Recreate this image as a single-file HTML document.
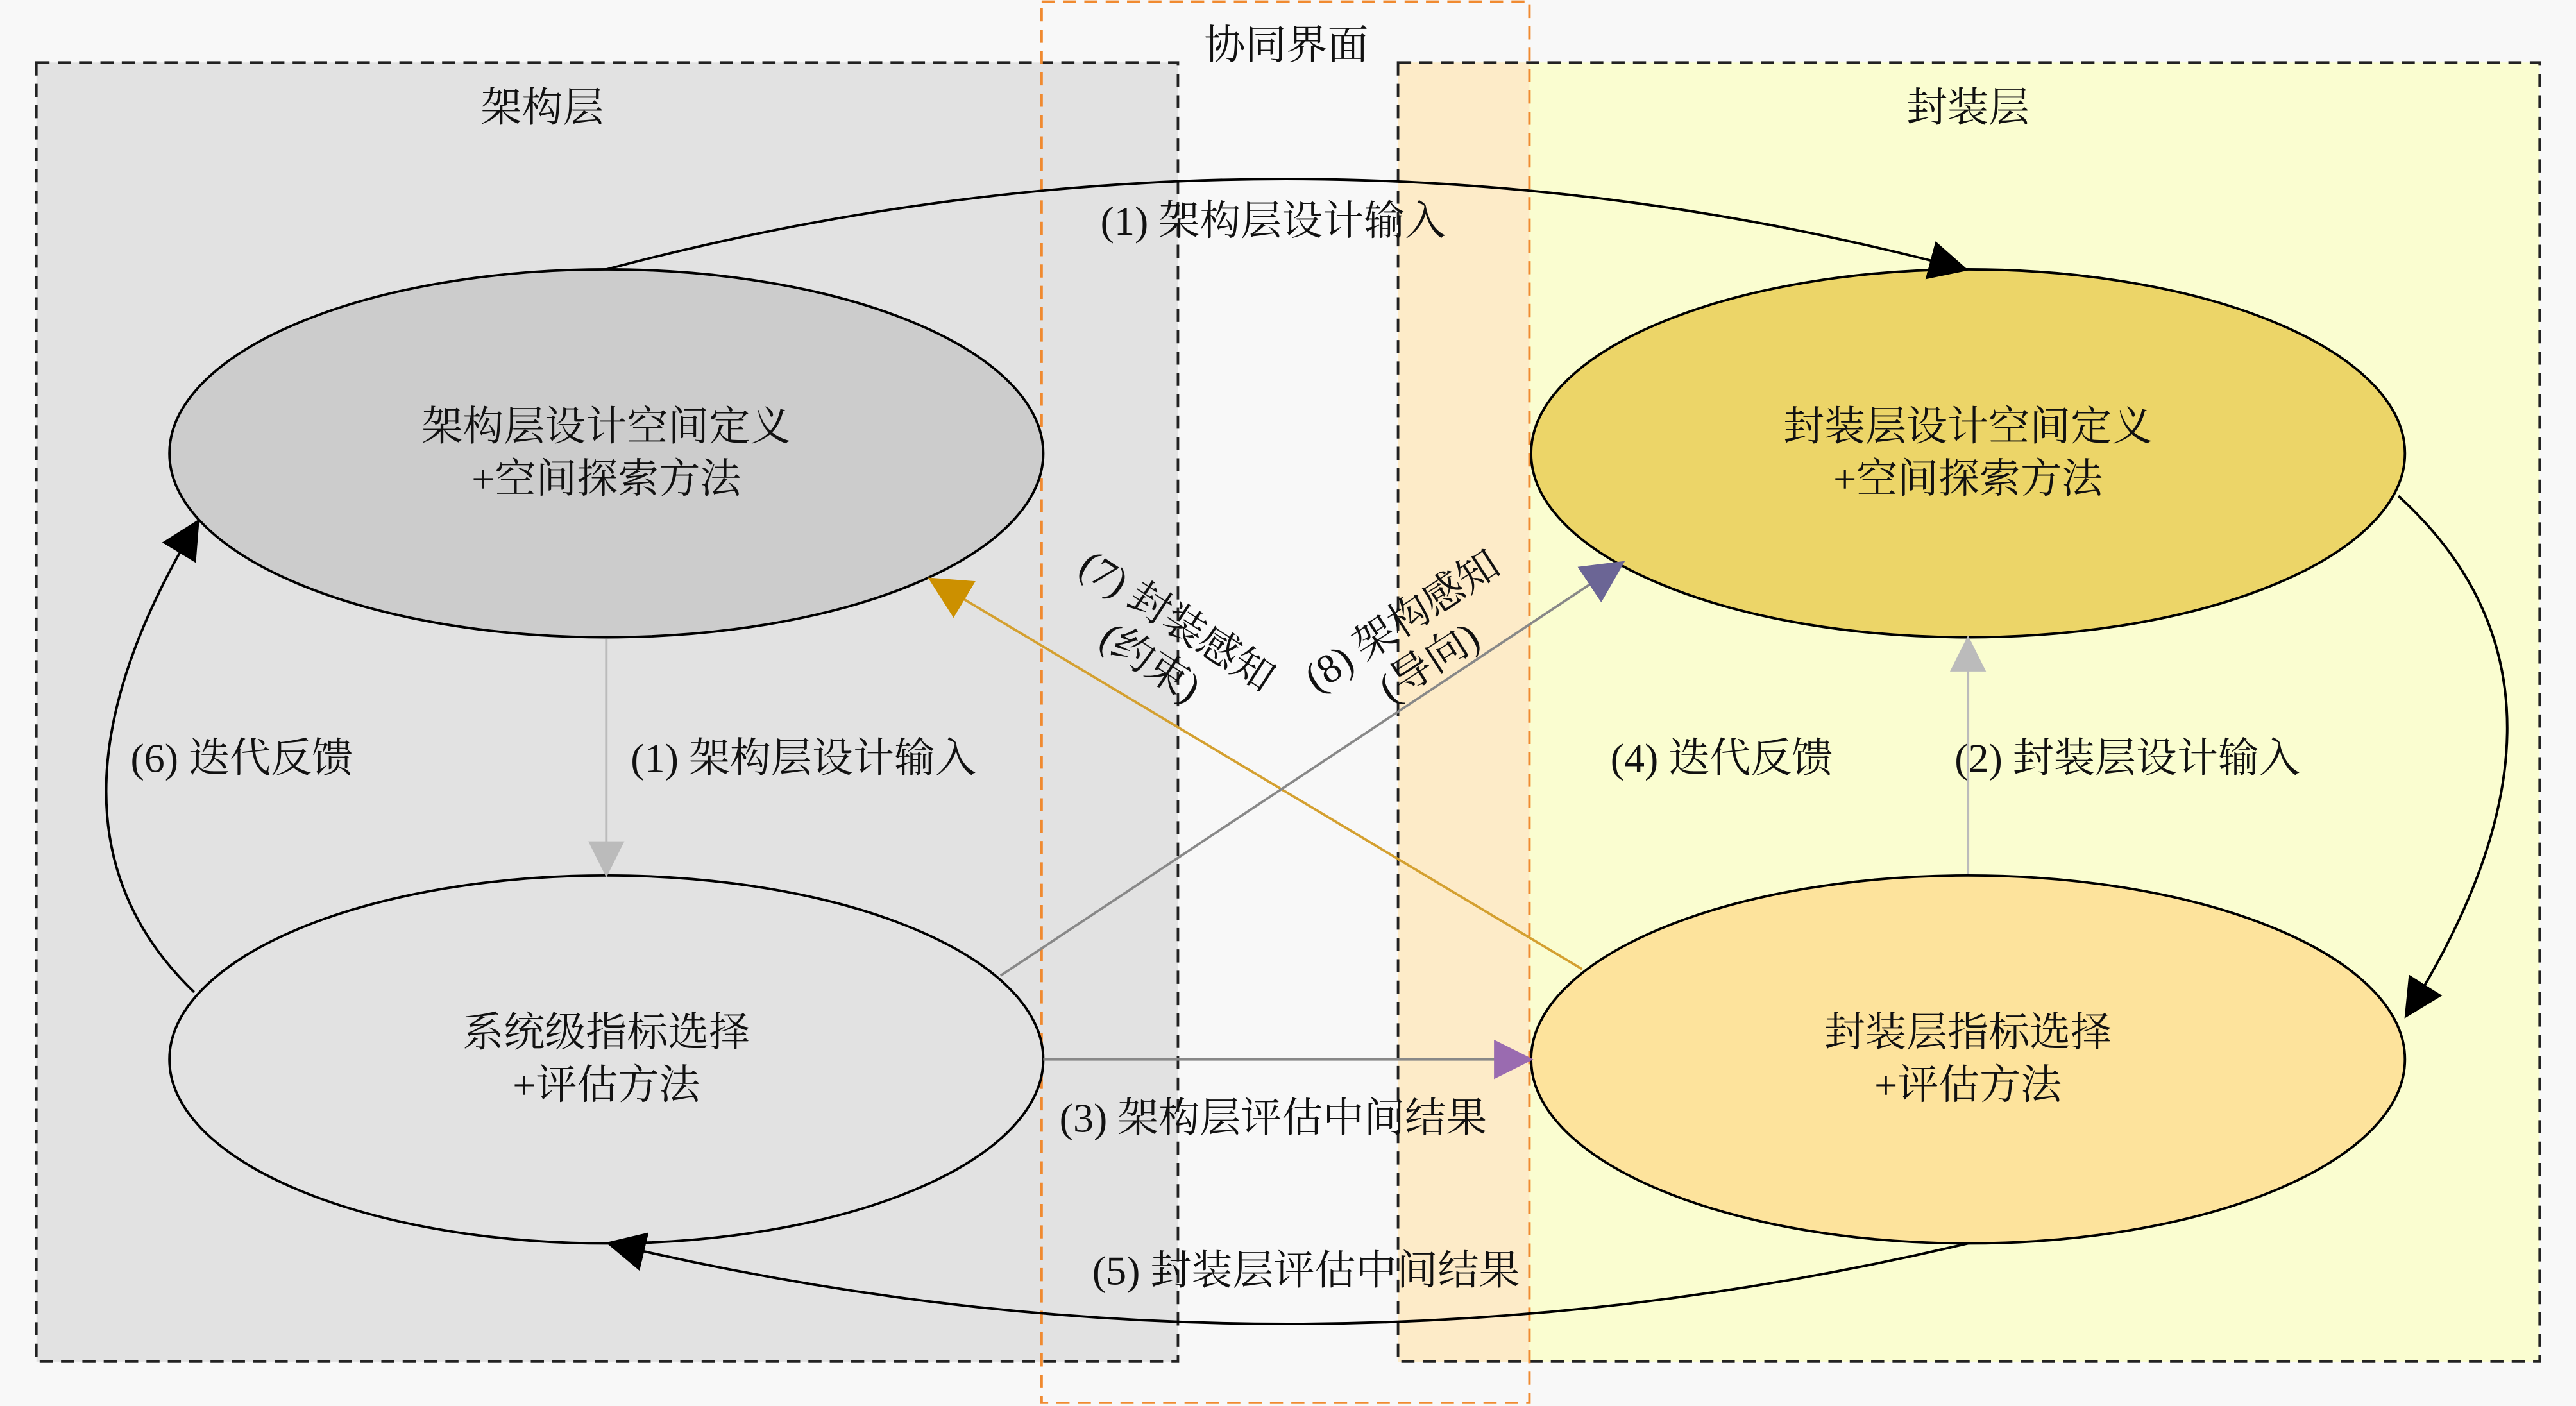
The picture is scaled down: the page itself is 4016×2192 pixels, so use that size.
<!DOCTYPE html>
<html><head><meta charset="utf-8"><style>html,body{margin:0;padding:0;background:#f8f8f8}svg{display:block}</style></head>
<body>
<svg width="4016" height="2192" viewBox="0 0 1568 856" xmlns="http://www.w3.org/2000/svg" font-family="'Liberation Serif','Noto Serif CJK SC',serif" font-size="25" fill="#111">
<defs>
<marker id="ag" viewBox="0 0 10 10" refX="9" refY="5" markerWidth="22" markerHeight="22" orient="auto" markerUnits="userSpaceOnUse"><path d="M0,0 L10,5 L0,10 z" fill="#bbb"/></marker>
<marker id="ap" viewBox="0 0 10 10" refX="9" refY="5" markerWidth="24" markerHeight="24" orient="auto" markerUnits="userSpaceOnUse"><path d="M0,0 L10,5 L0,10 z" fill="#9a6bb0"/></marker>
<marker id="ao" viewBox="0 0 10 10" refX="9" refY="5" markerWidth="26" markerHeight="26" orient="auto" markerUnits="userSpaceOnUse"><path d="M0,0 L10,5 L0,10 z" fill="#cc9000"/></marker>
<marker id="av" viewBox="0 0 10 10" refX="9" refY="5" markerWidth="26" markerHeight="26" orient="auto" markerUnits="userSpaceOnUse"><path d="M0,0 L10,5 L0,10 z" fill="#6b6595"/></marker>
<marker id="ak" viewBox="0 0 10 10" refX="9" refY="5" markerWidth="24" markerHeight="24" orient="auto" markerUnits="userSpaceOnUse"><path d="M0,0 L10,5 L0,10 z" fill="#000"/></marker>
</defs>
<rect width="1568" height="856" fill="#f8f8f8"/>
<rect x="22" y="38" width="695" height="791" fill="#e2e2e2"/>
<rect x="851" y="38" width="695" height="791" fill="#fafdd0"/>
<rect x="851" y="38" width="80" height="791" fill="#fdebc8"/>
<rect x="22" y="38" width="695" height="791" fill="none" stroke="#222" stroke-width="1.5" stroke-dasharray="8,5"/>
<rect x="851" y="38" width="695" height="791" fill="none" stroke="#222" stroke-width="1.5" stroke-dasharray="8,5"/>
<rect x="634" y="1" width="297" height="853" fill="none" stroke="#f08a30" stroke-width="1.5" stroke-dasharray="8,5"/>
<text x="330" y="74" text-anchor="middle">架构层</text>
<text x="783" y="36" text-anchor="middle">协同界面</text>
<text x="1198" y="74" text-anchor="middle">封装层</text>
<ellipse cx="369" cy="276" rx="266" ry="112" fill="#cccccc" stroke="#000" stroke-width="1.5"/>
<ellipse cx="1198" cy="276" rx="266" ry="112" fill="#ecd568" stroke="#000" stroke-width="1.5"/>
<ellipse cx="369" cy="645" rx="266" ry="112" fill="#e2e2e2" stroke="#000" stroke-width="1.5"/>
<ellipse cx="1198" cy="645" rx="266" ry="112" fill="#fde39c" stroke="#000" stroke-width="1.5"/>
<text text-anchor="middle"><tspan x="369" y="268">架构层设计空间定义</tspan><tspan x="369" y="300">+空间探索方法</tspan></text>
<text text-anchor="middle"><tspan x="1198" y="268">封装层设计空间定义</tspan><tspan x="1198" y="300">+空间探索方法</tspan></text>
<text text-anchor="middle"><tspan x="369" y="637">系统级指标选择</tspan><tspan x="369" y="669">+评估方法</tspan></text>
<text text-anchor="middle"><tspan x="1198" y="637">封装层指标选择</tspan><tspan x="1198" y="669">+评估方法</tspan></text>
<path d="M369,164 Q783,54 1196,164" fill="none" stroke="#000" stroke-width="1.5" marker-end="url(#ak)"/>
<path d="M1198,757 Q783,855 371,757" fill="none" stroke="#000" stroke-width="1.5" marker-end="url(#ak)"/>
<path d="M118,604 Q10,500 120,318" fill="none" stroke="#000" stroke-width="1.5" marker-end="url(#ak)"/>
<path d="M1460,302 Q1590,420 1465,618" fill="none" stroke="#000" stroke-width="1.5" marker-end="url(#ak)"/>
<line x1="369" y1="389" x2="369" y2="532" stroke="#bbb" stroke-width="1.5" marker-end="url(#ag)"/>
<line x1="1198" y1="532" x2="1198" y2="389" stroke="#bbb" stroke-width="1.5" marker-end="url(#ag)"/>
<line x1="635" y1="645" x2="931" y2="645" stroke="#888" stroke-width="1.5" marker-end="url(#ap)"/>
<line x1="963" y1="590" x2="567" y2="353" stroke="#d4a030" stroke-width="1.5" marker-end="url(#ao)"/>
<line x1="609" y1="594" x2="987" y2="343" stroke="#888" stroke-width="1.5" marker-end="url(#av)"/>
<text x="775" y="143" text-anchor="middle">(1) 架构层设计输入</text>
<text x="489" y="470" text-anchor="middle">(1) 架构层设计输入</text>
<text x="147" y="470" text-anchor="middle">(6) 迭代反馈</text>
<text x="1048" y="470" text-anchor="middle">(4) 迭代反馈</text>
<text x="1295" y="470" text-anchor="middle">(2) 封装层设计输入</text>
<text x="775" y="689" text-anchor="middle">(3) 架构层评估中间结果</text>
<text x="795" y="782" text-anchor="middle">(5) 封装层评估中间结果</text>
<g transform="translate(712,385) rotate(33)" text-anchor="middle"><text x="0" y="0">(7) 封装感知</text><text x="0" y="30">(约束)</text></g>
<g transform="translate(858,385) rotate(-33)" text-anchor="middle"><text x="0" y="0">(8) 架构感知</text><text x="0" y="30">(导向)</text></g>
</svg>
</body></html>
